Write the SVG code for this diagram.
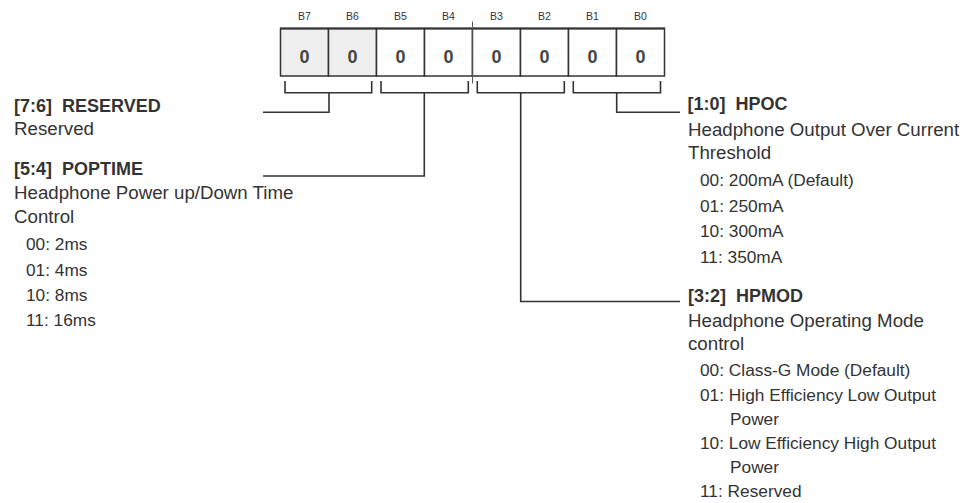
<svg xmlns="http://www.w3.org/2000/svg" width="971" height="503" viewBox="0 0 971 503">
<style>
  .bit { font-family: "Liberation Sans", Arial, sans-serif; font-size: 10.5px; fill: #333; text-anchor: middle; }
  .val { font-family: "Liberation Sans", Arial, sans-serif; font-size: 18px; font-weight: bold; fill: #444; text-anchor: middle; }
  .cell { stroke: #333; stroke-width: 1.5; }
  .hdr { font-family: "Liberation Sans", Arial, sans-serif; font-size: 18px; font-weight: bold; fill: #333; }
  .desc { font-family: "Liberation Sans", Arial, sans-serif; font-size: 18.7px; fill: #333; }
  .item { font-family: "Liberation Sans", Arial, sans-serif; font-size: 17.3px; fill: #333; }
  .conn { fill: none; stroke: #333; stroke-width: 1.6; }
</style>
<rect width="971" height="503" fill="#fff"/>

<g id="register">
  <rect x="280.5" y="28.5" width="48" height="47.5" fill="#efefef" class="cell"/>
  <rect x="328.5" y="28.5" width="48" height="47.5" fill="#efefef" class="cell"/>
  <rect x="376.5" y="28.5" width="48" height="47.5" fill="#fff" class="cell"/>
  <rect x="424.5" y="28.5" width="48" height="47.5" fill="#fff" class="cell"/>
  <rect x="472.5" y="28.5" width="48" height="47.5" fill="#fff" class="cell"/>
  <rect x="520.5" y="28.5" width="48" height="47.5" fill="#fff" class="cell"/>
  <rect x="568.5" y="28.5" width="48" height="47.5" fill="#fff" class="cell"/>
  <rect x="616.5" y="28.5" width="48" height="47.5" fill="#fff" class="cell"/>
  <line x1="280" y1="28.5" x2="665" y2="28.5" stroke="#333" stroke-width="2"/>
  <line x1="472.5" y1="21.5" x2="472.5" y2="83.5" stroke="#555" stroke-width="1"/>
  <text class="bit" x="304.5" y="20">B7</text>
  <text class="bit" x="352.5" y="20">B6</text>
  <text class="bit" x="400.5" y="20">B5</text>
  <text class="bit" x="448.5" y="20">B4</text>
  <text class="bit" x="496.5" y="20">B3</text>
  <text class="bit" x="544.5" y="20">B2</text>
  <text class="bit" x="592.5" y="20">B1</text>
  <text class="bit" x="640.5" y="20">B0</text>
  <text class="val" x="304.5" y="63">0</text>
  <text class="val" x="352.5" y="63">0</text>
  <text class="val" x="400.5" y="63">0</text>
  <text class="val" x="448.5" y="63">0</text>
  <text class="val" x="496.5" y="63">0</text>
  <text class="val" x="544.5" y="63">0</text>
  <text class="val" x="592.5" y="63">0</text>
  <text class="val" x="640.5" y="63">0</text>
</g>

<g id="connectors">
  <path class="conn" d="M285,81 V92.7 H371.7 V81 M329,92.7 V112.3 H263"/>
  <path class="conn" d="M381,81 V92.7 H468.3 V81 M424.3,92.7 V176 H263"/>
  <path class="conn" d="M477.3,81 V92.7 H564.3 V81 M520.7,92.7 V301.5 H680"/>
  <path class="conn" d="M573.3,81 V92.7 H660.5 V81 M616.7,92.7 V112.3 H680"/>
</g>

<g id="reserved">
  <text class="hdr" x="14" y="111.5" xml:space="preserve">[7:6]  RESERVED</text>
  <text class="desc" x="14" y="135">Reserved</text>
</g>

<g id="poptime">
  <text class="hdr" x="14" y="175" xml:space="preserve">[5:4]  POPTIME</text>
  <text class="desc" x="14" y="199">Headphone Power up/Down Time</text>
  <text class="desc" x="14" y="223">Control</text>
  <text class="item" x="26" y="250">00: 2ms</text>
  <text class="item" x="26" y="275.5">01: 4ms</text>
  <text class="item" x="26" y="300.5">10: 8ms</text>
  <text class="item" x="26" y="326">11: 16ms</text>
</g>

<g id="hpoc">
  <text class="hdr" x="687.5" y="110" xml:space="preserve">[1:0]  HPOC</text>
  <text class="desc" x="688" y="136">Headphone Output Over Current</text>
  <text class="desc" x="688" y="159">Threshold</text>
  <text class="item" x="700" y="186">00: 200mA (Default)</text>
  <text class="item" x="700" y="211.5">01: 250mA</text>
  <text class="item" x="700" y="237">10: 300mA</text>
  <text class="item" x="700" y="262.5">11: 350mA</text>
</g>

<g id="hpmod">
  <text class="hdr" x="688" y="302" xml:space="preserve">[3:2]  HPMOD</text>
  <text class="desc" x="688" y="326.5">Headphone Operating Mode</text>
  <text class="desc" x="688" y="350">control</text>
  <text class="item" x="700" y="376">00: Class-G Mode (Default)</text>
  <text class="item" x="700" y="401">01: High Efficiency Low Output</text>
  <text class="item" x="730" y="425">Power</text>
  <text class="item" x="700" y="449">10: Low Efficiency High Output</text>
  <text class="item" x="730" y="472.5">Power</text>
  <text class="item" x="700" y="497">11: Reserved</text>
</g>
</svg>
